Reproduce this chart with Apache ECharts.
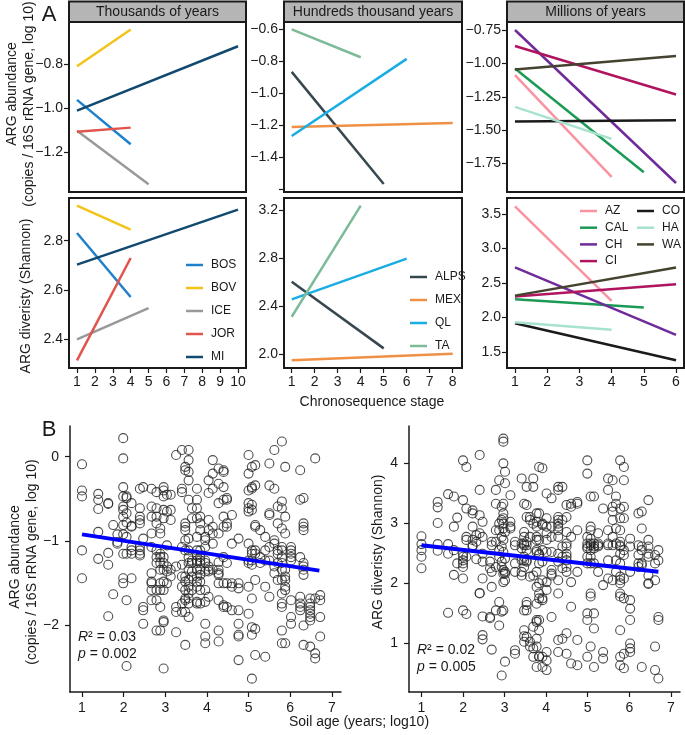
<!DOCTYPE html>
<html>
<head>
<meta charset="utf-8">
<script src="https://cdn.jsdelivr.net/npm/echarts@6/dist/echarts.min.js"></script>
<style>
html, body { margin: 0; padding: 0; background: #fff; }
#main { width: 685px; height: 735px; }
</style>
</head>
<body>
<div id="main"></div>
<script>
// ---- A: trends along each chronosequence (stage 1 -> last stage) ----
var sitesK = ['BOS', 'BOV', 'ICE', 'JOR', 'MI'];
var lastStageK = [4, 4, 5, 4, 10];
var abundStartK = [-0.962, -0.808, -1.103, -1.108, -1.011];
var abundEndK = [-1.165, -0.639, -1.349, -1.089, -0.716];
var divStartK = [2.831, 2.942, 2.400, 2.315, 2.703];
var divEndK = [2.572, 2.845, 2.527, 2.730, 2.926];

var sitesH = ['ALPS', 'MEX', 'QL', 'TA'];
var lastStageH = [5, 8, 6, 4];
var abundStartH = [-0.867, -1.213, -1.269, -0.600];
var abundEndH = [-1.570, -1.187, -0.785, -0.775];
var divStartH = [2.603, 1.947, 2.456, 2.311];
var divEndH = [2.047, 2.003, 2.797, 3.239];

var sitesM = ['AZ', 'CAL', 'CH', 'CI', 'CO', 'HA', 'WA'];
var lastStageM = [4, 5, 6, 6, 6, 4, 6];
var abundStartM = [-1.088, -1.038, -0.750, -0.870, -1.435, -1.325, -1.045];
var abundEndM = [-1.850, -1.815, -1.895, -1.233, -1.425, -1.565, -0.945];
var divStartM = [3.611, 2.264, 2.726, 2.303, 1.918, 1.933, 2.317];
var divEndM = [2.240, 2.144, 1.750, 2.481, 1.380, 1.822, 2.726];

var panelTitles = ['Thousands of years', 'Hundreds thousand years', 'Millions of years'];

// tick labels
var stageTicksK = [1, 2, 3, 4, 5, 6, 7, 8, 9, 10];
var stageTicksH = [1, 2, 3, 4, 5, 6, 7, 8];
var stageTicksM = [1, 2, 3, 4, 5, 6];
var abundTicksK = [-1.2, -1.0, -0.8];
var abundTicksH = [-1.6, -1.4, -1.2, -1.0, -0.8, -0.6];
var abundLabelsH = [-1.4, -1.2, -1.0, -0.8, -0.6];
var abundTicksM = [-1.75, -1.5, -1.25, -1.0, -0.75];
var divTicksK = [2.4, 2.6, 2.8];
var divTicksH = [2.0, 2.4, 2.8, 3.2];
var divTicksM = [1.5, 2.0, 2.5, 3.0, 3.5];
var ageTicks = [1, 2, 3, 4, 5, 6, 7];
var abundTicksAll = [-2, -1, 0];
var divTicksAll = [1, 2, 3, 4];

// ---- B: all samples, soil age (log10) vs ARG abundance ----
var abundAges = [1.00, 1.39, 1.63, 1.75, 1.85, 1.99, 2.07, 2.19, 2.39, 2.47, 2.67, 2.79, 2.88, 2.96, 3.04, 3.13,
  3.26, 3.40, 3.48, 3.56, 3.64, 3.76, 3.84, 3.96, 4.04, 4.14, 4.28, 4.40, 4.48, 4.60, 4.76, 5.00, 5.08, 5.16,
  5.28, 5.40, 5.50, 5.62, 5.70, 5.80, 5.88, 6.02, 6.24, 6.32, 6.48, 6.60, 6.72];
var abundValues = [
  [-0.09, -0.40, -0.47, -1.11, -1.44],
  [-0.44, -0.51, -0.62, -0.89, -1.21],
  [-0.55, -0.56, -1.14, -1.28, -1.89],
  [-0.81, -1.63],
  [-0.92, -1.01, -1.03],
  [0.22, -0.02, -0.36, -0.47, -0.59, -0.63, -0.71, -0.81, -0.92, -1.15, -1.44, -1.50],
  [-0.47, -0.49, -0.67, -0.78, -0.95, -1.15, -1.70, -2.48],
  [-0.55, -0.82, -0.83, -1.07, -1.11, -1.15, -1.44],
  [-0.38, -0.61, -0.71, -0.75, -0.79, -1.07, -1.11, -1.17, -1.15],
  [-0.36, -0.97, -1.78, -1.82, -1.98],
  [-0.38, -0.59, -0.71, -0.91, -1.07, -1.38, -1.48, -1.50, -1.58, -1.70],
  [-0.42, -0.61, -0.71, -0.79, -1.11, -1.19, -1.26, -1.58, -1.70, -2.06],
  [-0.85, -0.91, -1.15, -1.19, -1.26, -1.34, -1.50, -1.58, -1.78, -2.06],
  [-0.36, -0.40, -0.47, -0.63, -0.73, -1.19, -1.26, -1.34, -1.48, -1.58, -1.94, -1.96, -2.51],
  [-0.45, -0.65, -1.05, -1.30, -1.36, -1.50],
  [-0.45, -0.63, -0.75, -1.34, -1.42],
  [0.02, -1.30, -1.78, -1.84, -2.08],
  [0.08, -0.38, -0.42, -1.07, -1.28, -1.42, -1.54, -1.74, -1.84],
  [-0.12, -0.16, -0.79, -0.83, -0.87, -0.99, -1.11, -1.42, -1.48, -1.58, -1.68, -1.70, -1.84, -2.23],
  [0.08, -0.04, -0.18, -0.28, -0.51, -0.97, -1.11, -1.19, -1.26, -1.34, -1.46, -1.54, -1.62, -1.68, -1.74, -1.90],
  [-0.61, -0.73, -1.23, -1.26, -1.36, -1.42, -1.58],
  [-0.38, -0.51, -0.61, -0.73, -0.95, -1.11, -1.17, -1.23, -1.26, -1.34, -1.42, -1.48, -1.54, -1.72, -1.74],
  [-0.71, -0.79, -0.87, -1.11, -1.19, -1.23, -1.26, -1.34, -1.40, -1.48, -1.58, -1.74],
  [-0.95, -0.99, -1.07, -1.23, -1.26, -1.36, -1.58, -1.72, -1.98, -2.13, -2.21],
  [-0.28, -0.43, -0.75, -0.87, -1.30, -1.34, -1.36, -1.66],
  [-0.04, -0.20, -0.38, -0.83, -0.91, -1.03, -1.34],
  [-0.14, -0.32, -0.55, -0.91, -1.25, -1.34, -1.38, -1.40, -1.50, -1.70, -2.06, -2.19],
  [-0.16, -0.18, -0.36, -0.51, -0.71, -0.83, -1.19, -1.50, -1.76, -1.78],
  [-0.49, -0.51, -0.79, -0.83, -1.26, -1.50, -1.78],
  [-0.69, -1.03, -1.50, -1.54, -1.82],
  [-0.97, -1.50, -1.56, -1.82, -1.98, -2.11, -2.13, -2.41],
  [0.02, -0.20, -0.40, -0.55, -0.61, -0.65, -1.03, -1.23, -1.26, -1.54, -1.86],
  [-0.12, -0.36, -0.38, -0.57, -0.63, -1.11, -1.15, -1.23, -1.28, -1.68, -2.02, -2.11, -2.63],
  [-0.10, -0.34, -0.81, -0.83, -1.11, -1.15, -1.46, -2.04, -2.35],
  [-0.87, -1.19, -1.26],
  [-0.95, -1.11, -1.23, -1.54, -2.37],
  [-0.08, -0.34, -0.67, -0.69, -1.07, -1.23, -1.66],
  [0.08, -0.38, -0.99, -1.03, -1.30, -1.38],
  [-0.59, -0.79, -1.11, -1.15, -1.26, -1.46],
  [0.18, -0.53, -0.61, -0.85, -1.07, -1.11, -1.19, -1.26, -1.34, -1.46, -1.62, -1.74, -1.78, -2.06, -2.21],
  [-0.12, -0.71, -0.91, -1.34, -1.42, -1.46, -1.54, -1.58, -2.21],
  [-1.07, -1.11, -1.15, -1.19, -1.23, -1.70, -1.90, -1.98],
  [-0.16, -0.51, -1.19, -1.66, -1.74, -1.78, -1.82],
  [-0.49, -0.79, -0.83, -0.87, -1.26, -1.30, -1.34, -1.40, -2.00, -2.23],
  [-1.68, -1.74, -1.78, -1.82, -1.86, -1.90, -1.94, -2.25],
  [-0.02, -1.68, -2.33, -2.39],
  [-1.64, -1.70, -1.90, -2.13]
];
var abundFitX = [1, 6.7];
var abundFitY = [-0.92, -1.35];

// ---- B: all samples, soil age (log10) vs ARG diversity ----
var divAges = [1.00, 1.39, 1.64, 1.78, 1.86, 2.00, 2.08, 2.23, 2.32, 2.40, 2.47, 2.65, 2.69, 2.79, 2.87, 2.93,
  2.97, 3.01, 3.14, 3.25, 3.41, 3.47, 3.53, 3.61, 3.69, 3.77, 3.83, 3.91, 4.01, 4.13, 4.29, 4.39, 4.49, 4.60,
  4.75, 4.99, 5.07, 5.15, 5.25, 5.37, 5.49, 5.60, 5.68, 5.78, 5.87, 6.02, 6.22, 6.30, 6.46, 6.62, 6.70];
var divValues = [
  [2.78, 2.65, 2.55, 2.44, 2.25],
  [3.35, 3.26, 3.00, 2.65, 2.54],
  [3.48, 2.65, 2.49, 1.51],
  [3.44, 2.94, 2.55, 2.14],
  [3.09, 2.33],
  [4.04, 3.38, 2.49, 2.44, 2.38, 2.33, 2.27, 2.08, 1.55],
  [3.93, 3.24, 2.77, 2.72, 2.44, 1.49],
  [3.21, 3.16, 2.94, 2.72, 2.63, 2.61],
  [2.80, 2.69, 2.40],
  [4.13, 3.55, 3.13, 2.83, 1.84, 1.83],
  [3.02, 2.77, 2.49, 2.36, 2.08, 1.45, 1.14, 1.07],
  [2.36, 2.25, 1.44, 1.42],
  [2.69, 2.63, 2.19, 1.94, 0.90],
  [3.55, 3.32, 2.88, 2.69, 2.27, 1.55],
  [3.71, 2.99, 2.88, 2.55, 2.44, 1.69, 1.30],
  [3.27, 3.05, 2.77, 2.61, 2.36, 2.27, 1.53, 0.47],
  [4.40, 4.35, 3.99, 3.32, 3.16, 3.08, 2.99, 2.91, 2.72, 2.52, 2.22, 2.16, 2.02, 1.55],
  [3.85, 3.66, 2.85, 2.41, 2.19, 2.16, 2.05, 0.70],
  [3.46, 3.02, 2.94, 2.91],
  [2.69, 2.63, 2.33, 2.19, 0.89, 0.83],
  [3.74, 2.66, 2.58, 2.38, 2.19, 2.13],
  [3.32, 2.85, 2.77, 2.66, 2.63, 2.44, 2.38, 2.27, 1.55, 1.22, 1.12, 1.03],
  [3.60, 3.30, 3.10, 2.69, 2.63, 2.55, 2.38, 2.36, 1.69, 1.64, 1.55, 1.11],
  [3.10, 3.05, 2.77, 2.11, 1.03, 0.95],
  [3.74, 3.60, 2.99, 2.13, 1.28, 0.92, 0.78],
  [3.16, 3.02, 2.94, 2.77, 2.72, 2.55, 2.52, 2.19, 1.94, 1.66, 1.39, 1.36, 1.08, 0.95, 0.61],
  [3.93, 3.16, 2.72, 2.49, 2.47, 2.33, 2.00, 1.83, 1.75, 1.39, 1.22, 0.79, 0.78],
  [3.91, 2.99, 2.97, 2.55, 2.36, 2.05, 1.75, 1.72, 0.78, 0.61],
  [3.49, 3.08, 2.94, 2.83, 2.72, 2.52, 2.02, 1.89, 0.86, 0.72, 0.56],
  [3.41, 2.94, 2.77, 2.52, 2.22, 2.16, 2.13, 1.44],
  [3.55, 3.60, 3.10, 3.05, 2.99, 2.94, 2.88, 2.77, 2.49, 2.36, 2.05, 1.83, 1.06, 0.86],
  [3.60, 3.05, 2.61, 2.44, 2.25, 1.08],
  [3.30, 3.10, 2.85, 2.66, 2.61, 2.49, 2.44, 2.38, 2.27, 2.19, 1.17, 0.83],
  [3.32, 3.27, 2.77, 2.02, 1.61, 0.67],
  [3.35, 3.32, 2.88, 2.19, 1.06, 0.64],
  [4.04, 3.82, 2.77, 2.66, 2.61, 2.58, 2.44, 2.33, 1.50, 1.39, 0.78],
  [3.44, 2.94, 2.88, 2.74, 2.66, 2.63, 2.55, 2.44, 2.33, 1.83, 1.78, 0.95],
  [3.44, 2.66, 2.61, 2.58, 2.33, 1.50, 1.25, 0.61],
  [2.83, 2.66, 2.63, 2.61, 2.19],
  [3.24, 1.97, 0.86, 0.75],
  [3.74, 3.55, 2.88, 2.66, 2.63, 2.38, 2.08],
  [3.71, 3.27, 3.19, 3.05, 2.77, 2.63, 2.05],
  [3.44, 3.32, 2.91, 2.66, 2.38, 2.19],
  [4.04, 3.24, 3.08, 2.88, 2.69, 2.63, 2.61, 2.49, 2.33, 2.11, 2.05, 2.00, 1.83, 1.78, 1.22, 0.78, 0.64],
  [3.93, 3.71, 3.27, 3.08, 2.55, 2.47, 2.08, 1.75, 0.83, 0.59],
  [2.74, 2.61, 2.19, 1.72, 1.58, 1.39, 1.00, 0.92, 0.86],
  [3.16, 2.63, 2.47, 2.33, 2.27],
  [3.19, 2.91, 2.61, 2.55, 2.33, 2.30, 0.61],
  [3.38, 2.72, 2.61, 2.49, 2.44, 2.13, 2.00, 1.99],
  [2.47, 2.33, 2.05, 0.95, 0.56],
  [2.55, 2.38, 1.44, 1.39, 0.42]
];
var divFitX = [1, 6.7];
var divFitY = [2.63, 2.19];

// colours
var colorsK = ['#1f80cc', '#f2c318', '#999999', '#e0544b', '#11496f'];
var colorsH = ['#37474f', '#ee9045', '#19ade3', '#7dbb98'];
var colorsM = ['#f8939f', '#1b9a55', '#6f2b99', '#b0145f', '#1a1a1a', '#a7e3cc', '#44432f'];

var FONT = '"Liberation Sans", Arial, sans-serif';
var INK = '#1a1a1a';

var dom = document.getElementById('main');
var myChart = echarts.init(dom, null, { renderer: 'canvas' });

function minus(s) { return s.replace('-', '\u2212'); }

function trendSeries(sites, last, start, end, colors, idx) {
  return sites.map(function (s, i) {
    return {
      type: 'line', name: s, xAxisIndex: idx, yAxisIndex: idx,
      data: [[1, start[i]], [last[i], end[i]]],
      symbol: 'none', silent: true,
      lineStyle: { color: colors[i], width: 2.5 },
      itemStyle: { color: colors[i] }
    };
  });
}

function scatterData(ages, values) {
  var out = [];
  ages.forEach(function (a, i) {
    values[i].forEach(function (v) { out.push([a, v]); });
  });
  return out;
}

// grid boxes
var grids = [
  { left: 69, top: 22, width: 177, height: 170 },
  { left: 284, top: 22, width: 178, height: 170 },
  { left: 507, top: 22, width: 177, height: 170 },
  { left: 69, top: 198, width: 177, height: 170 },
  { left: 284, top: 198, width: 178, height: 170 },
  { left: 507, top: 198, width: 177, height: 170 },
  { left: 70, top: 426, width: 271, height: 266 },
  { left: 409, top: 426, width: 271, height: 266 }
];
grids.forEach(function (g, i) {
  g.show = i < 6;
  g.borderColor = INK;
  g.borderWidth = 2;
  g.containLabel = false;
});

function xAx(idx, min, max, ticks, showTicks, boxed) {
  return {
    type: 'value', gridIndex: idx, min: min, max: max,
    splitLine: { show: false },
    axisLine: { show: !boxed, onZero: false, lineStyle: { color: INK, width: 1.5 } },
    axisTick: { show: showTicks, length: 5, customValues: ticks, lineStyle: { color: INK, width: 1.2 } },
    axisLabel: {
      show: showTicks, customValues: ticks, margin: boxed ? 7 : 9,
      fontSize: 14, color: INK, fontFamily: FONT
    }
  };
}
function yAx(idx, min, max, ticks, labels, dec, boxed) {
  return {
    type: 'value', gridIndex: idx, min: min, max: max,
    splitLine: { show: false },
    axisLine: { show: !boxed, onZero: false, lineStyle: { color: INK, width: 1.5 } },
    axisTick: { show: true, length: 5, customValues: ticks, lineStyle: { color: INK, width: 1.2 } },
    axisLabel: {
      customValues: labels, margin: boxed ? 6 : 11,
      fontSize: 14, color: INK, fontFamily: FONT,
      formatter: function (v) { return minus(Number(v).toFixed(dec)); }
    }
  };
}

var xAxes = [
  xAx(0, 0.553, 10.447, stageTicksK, false, true),
  xAx(1, 0.665, 8.404, stageTicksH, false, true),
  xAx(2, 0.752, 6.248, stageTicksM, false, true),
  xAx(3, 0.553, 10.447, stageTicksK, true, true),
  xAx(4, 0.665, 8.404, stageTicksH, true, true),
  xAx(5, 0.752, 6.248, stageTicksM, true, true),
  xAx(6, 0.712, 7.22, ageTicks, true, false),
  xAx(7, 0.70, 7.22, ageTicks, true, false)
];
var yAxes = [
  yAx(0, -1.384, -0.605, abundTicksK, abundTicksK, 1, true),
  yAx(1, -1.62, -0.554, abundTicksH, abundLabelsH, 1, true),
  yAx(2, -1.9625, -0.69, abundTicksM, abundTicksM, 2, true),
  yAx(3, 2.284, 2.973, divTicksK, divTicksK, 1, true),
  yAx(4, 1.883, 3.303, divTicksH, divTicksH, 1, true),
  yAx(5, 1.269, 3.731, divTicksM, divTicksM, 1, true),
  yAx(6, -2.788, 0.364, abundTicksAll, abundTicksAll, 0, false),
  yAx(7, 0.196, 4.61, divTicksAll, divTicksAll, 0, false)
];

var series = [].concat(
  trendSeries(sitesK, lastStageK, abundStartK, abundEndK, colorsK, 0),
  trendSeries(sitesH, lastStageH, abundStartH, abundEndH, colorsH, 1),
  trendSeries(sitesM, lastStageM, abundStartM, abundEndM, colorsM, 2),
  trendSeries(sitesK, lastStageK, divStartK, divEndK, colorsK, 3),
  trendSeries(sitesH, lastStageH, divStartH, divEndH, colorsH, 4),
  trendSeries(sitesM, lastStageM, divStartM, divEndM, colorsM, 5)
);
var circle = {
  type: 'scatter', symbol: 'circle', symbolSize: 9, silent: true,
  itemStyle: { color: 'rgba(0,0,0,0)', borderColor: '#222', borderWidth: 1.1 }
};
series.push(Object.assign({}, circle, { name: 'abund', xAxisIndex: 6, yAxisIndex: 6, data: scatterData(abundAges, abundValues) }));
series.push(Object.assign({}, circle, { name: 'div', xAxisIndex: 7, yAxisIndex: 7, data: scatterData(divAges, divValues) }));
series.push({
  type: 'line', name: 'fitA', xAxisIndex: 6, yAxisIndex: 6, symbol: 'none', silent: true, z: 5,
  data: abundFitX.map(function (x, i) { return [x, abundFitY[i]]; }),
  lineStyle: { color: '#0000ff', width: 4 }
});
series.push({
  type: 'line', name: 'fitD', xAxisIndex: 7, yAxisIndex: 7, symbol: 'none', silent: true, z: 5,
  data: divFitX.map(function (x, i) { return [x, divFitY[i]]; }),
  lineStyle: { color: '#0000ff', width: 4 }
});

// legend rows: plain line keys (thin rect icons), row pitch = lineHeight + gap
function legendAt(names, left, top, gap) {
  return {
    data: names, orient: 'vertical', left: left, top: top,
    icon: 'rect', itemWidth: 17, itemHeight: 2.5, itemGap: gap, selectedMode: false,
    textStyle: { fontSize: 12, lineHeight: 14, color: INK, fontFamily: FONT, padding: [0, 0, 0, 3] }
  };
}

// graphics: strips, panel letters, axis titles, stats
var graphic = [];
var stripBoxes = [[69, 177], [284, 178], [507, 177]];
stripBoxes.forEach(function (b, i) {
  graphic.push({
    type: 'rect', shape: { x: b[0], y: 1.5, width: b[1], height: 20.5 },
    style: { fill: '#b5b5b5', stroke: INK, lineWidth: 2 }
  });
  graphic.push({
    type: 'text', x: b[0] + b[1] / 2, y: 12,
    style: { text: panelTitles[i], fontSize: 14, fontFamily: FONT, fill: INK, align: 'center', verticalAlign: 'middle' }
  });
});
function txt(t, x, y, size, rot, extra) {
  var g = {
    type: 'text', x: x, y: y, rotation: rot || 0,
    style: Object.assign({ text: t, fontSize: size, fontFamily: FONT, fill: INK, align: 'center', verticalAlign: 'middle' }, extra || {})
  };
  graphic.push(g);
}
txt('A', 49, 15, 22);
txt('B', 49, 430, 22);
txt('ARG abundance', 12, 94, 14, Math.PI / 2);
txt('(copies / 16S rRNA gene, log 10)', 29, 104, 14, Math.PI / 2);
txt('ARG diveristy (Shannon)', 26, 296, 14, Math.PI / 2);
txt('Chronosequence stage', 372, 402, 14);
txt('ARG abundance', 15, 557, 14, Math.PI / 2);
txt('(copies / 16S rRNA gene, log 10)', 32, 562, 14, Math.PI / 2);
txt('ARG diveristy (Shannon)', 378, 552, 14, Math.PI / 2);
txt('Soil age (years; log10)', 359, 722, 14);
var richIt = { i: { fontStyle: 'italic', fontSize: 14, fontFamily: FONT, fill: INK } };
txt('{i|R}\u00b2 = 0.03', 78, 637, 14, 0, { align: 'left', rich: richIt });
txt('{i|p} = 0.002', 78, 654, 14, 0, { align: 'left', rich: richIt });
txt('{i|R}\u00b2 = 0.02', 417, 650, 14, 0, { align: 'left', rich: richIt });
txt('{i|p} = 0.005', 417, 667, 14, 0, { align: 'left', rich: richIt });

var option = {
  animation: false,
  textStyle: { fontFamily: FONT },
  grid: grids,
  xAxis: xAxes,
  yAxis: yAxes,
  legend: [
    legendAt(sitesK, 181, 253, 9),
    legendAt(sitesH, 405, 265, 9),
    legendAt(sitesM.slice(0, 4), 575, 199, 2.7),
    legendAt(sitesM.slice(4), 632, 199, 2.7)
  ],
  series: series,
  graphic: graphic
};

if (option && typeof option === 'object') {
  myChart.setOption(option, true);
}
</script>
</body>
</html>
